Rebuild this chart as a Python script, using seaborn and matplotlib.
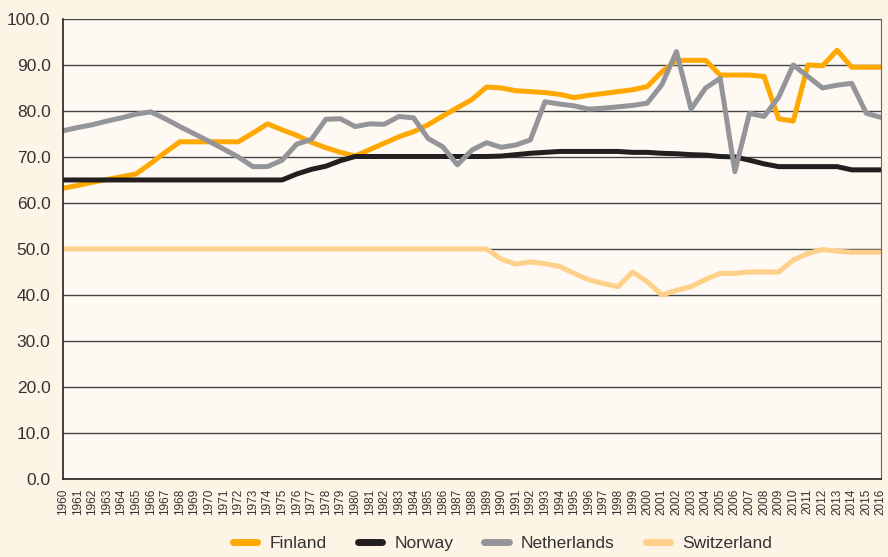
import pandas as pd
import matplotlib.pyplot as plt
import seaborn as sns
from matplotlib.lines import Line2D


# DATA

years = list(range(1960, 2017))

finland = [63.2, 63.8, 64.5, 65.1, 65.7, 66.3, 68.6, 71.0, 73.3, 73.3,
           73.3, 73.3, 73.3, 75.2, 77.2, 75.9, 74.7, 73.2, 72.0, 71.0,
           70.2, 71.6, 73.0, 74.4, 75.5, 77.0, 78.9, 80.7, 82.5, 85.2,
           85.0, 84.4, 84.2, 84.0, 83.6, 82.9, 83.4, 83.8, 84.2, 84.6,
           85.3, 88.5, 91.0, 91.0, 91.0, 87.8, 87.8, 87.8, 87.5, 78.3,
           77.8, 90.0, 89.8, 93.2, 89.5, 89.5, 89.5]

norway = [65.0] * 16 + [66.3, 67.3, 68.0, 69.2,
          70.1, 70.1, 70.1, 70.1, 70.1, 70.1, 70.1, 70.1, 70.1, 70.1,
          70.2, 70.5, 70.8, 71.0, 71.2, 71.2, 71.2, 71.2, 71.2, 71.0,
          71.0, 70.8, 70.7, 70.5, 70.4, 70.1, 70.0, 69.3, 68.5, 67.9,
          67.9, 67.9, 67.9, 67.9, 67.2, 67.2, 67.2]

netherlands = [75.7, 76.4, 77.0, 77.8, 78.5, 79.3, 79.8, 78.3, 76.6, 75.0,
               73.4, 71.7, 70.0, 67.9, 67.9, 69.3, 72.8, 73.8, 78.2, 78.3,
               76.6, 77.2, 77.1, 78.8, 78.5, 74.0, 72.2, 68.3, 71.5, 73.1,
               72.1, 72.6, 73.7, 82.0, 81.5, 81.1, 80.4, 80.6, 80.9, 81.2,
               81.7, 85.7, 92.9, 80.4, 85.0, 87.1, 66.8, 79.5, 78.8, 83.0,
               90.0, 87.5, 85.0, 85.6, 86.0, 79.5, 78.6]

switzerland = [50.0] * 30 + [47.8, 46.7, 47.2, 46.8, 46.2, 44.7, 43.3, 42.5, 41.8, 45.0,
               42.9, 40.0, 41.0, 41.8, 43.4, 44.7, 44.7, 45.0, 45.0, 45.0,
               47.6, 49.0, 49.9, 49.5, 49.3, 49.3, 49.3]

countries = ["Finland", "Norway", "Netherlands", "Switzerland"]
colors = ["#FFA800", "#231F20", "#939598", "#FFD08A"]

df = pd.DataFrame({
    "Year": years * 4,
    "Value": finland + norway + netherlands + switzerland,
    "Country": [c for c in countries for _ in years],
})


# PLOT

sns.set_style("white")
plt.rcParams["font.family"] = ["Liberation Sans", "DejaVu Sans"]

fig = plt.figure(figsize=(8.88, 5.57), dpi=100, facecolor="#FDF4E6")
ax = fig.add_axes([0.071, 0.14, 0.921, 0.826])
ax.set_facecolor("#FEF9F3")

sns.lineplot(data=df, x="Year", y="Value", hue="Country", hue_order=countries,
             palette=colors, linewidth=3.6, legend=False, ax=ax)

ax.set_xlim(1960, 2016)
ax.set_ylim(0, 100)
ax.set_yticks(range(0, 101, 10))
ax.set_yticklabels([f"{v:.1f}" for v in range(0, 101, 10)], fontsize=12.5, color="#333333")
ax.set_xticks(years)
ax.set_xticklabels([str(y) for y in years], rotation=90, fontsize=8.5, color="#333333")
ax.set_xlabel("")
ax.set_ylabel("")

ax.grid(axis="y", color="#444444", linewidth=1)
ax.set_axisbelow(True)
ax.tick_params(axis="both", direction="out", length=4, width=1, color="#333333", pad=3)
ax.tick_params(axis="y", pad=5)
for side in ["left", "bottom"]:
    ax.spines[side].set_color("#222222")
    ax.spines[side].set_linewidth(1.2)
ax.spines["right"].set_color("#666666")
ax.spines["top"].set_visible(False)

handles = [Line2D([0], [0], color=c, linewidth=5, solid_capstyle="round") for c in colors]
fig.legend(handles, countries, loc="center", bbox_to_anchor=(0.566, 0.025), ncol=4,
           frameon=False, fontsize=12.5, handlelength=1.4, handletextpad=0.7,
           columnspacing=1.8, labelcolor="#333333")

fig.savefig("out.png", dpi=100, facecolor=fig.get_facecolor())
